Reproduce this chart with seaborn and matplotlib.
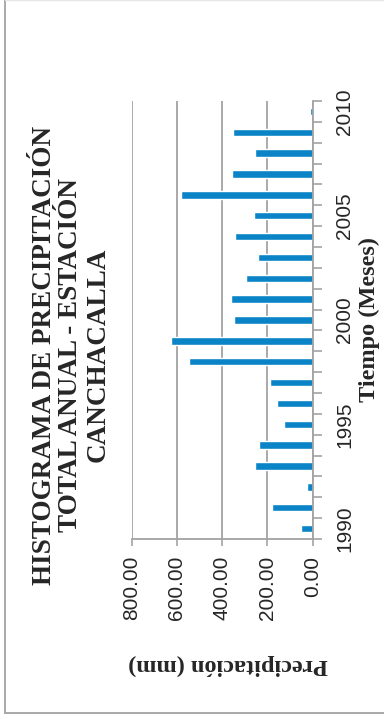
import matplotlib
matplotlib.use('Agg')
import numpy as np
import pandas as pd
import matplotlib.pyplot as plt
import seaborn as sns
from matplotlib.lines import Line2D

years = list(range(1990, 2011))
precip = [51, 180, 24, 257, 236, 126, 160, 188, 546, 628,
          346, 361, 297, 241, 343, 258, 580, 355, 257, 354, 10]
year_labels = ['1990', '1995', '2000', '2005', '2010']

BLUE = '#0A84C6'
GREY = '#A3A3A6'


def main():
    sns.set_style('white')
    plt.rcParams['font.family'] = ['Liberation Sans', 'DejaVu Sans']

    data = pd.DataFrame({'year': [str(y) for y in years], 'precip': precip})
    order = [str(y) for y in years][::-1]

    fig = plt.figure(figsize=(3.84, 7.19), dpi=100)
    ax = fig.add_axes([131.7 / 384, 1 - 539 / 719, (312.7 - 131.7) / 384, (539 - 101) / 719])

    sns.barplot(data=data, x='precip', y='year', order=order, orient='h',
                color=BLUE, saturation=1, width=0.36, ax=ax)

    ax.set_xlim(800, 0)
    ax.set_ylim(len(years) - 0.5, -0.5)

    # value axis (bottom)
    ax.set_xticks([0, 200, 400, 600, 800])
    ax.set_xticklabels(['%.2f' % v for v in [0, 200, 400, 600, 800]],
                       rotation=90, fontsize=15)
    ax.tick_params(axis='x', direction='out', length=5, width=1.2, color=GREY,
                   pad=7, bottom=True)
    ax.grid(axis='x', color=GREY, linewidth=1.3)
    ax.set_axisbelow(True)

    # category axis (right side)
    ax.yaxis.tick_right()
    pos = [order.index(y) for y in year_labels]
    ax.set_yticks(pos)
    ax.set_yticklabels(year_labels, rotation=90, va='center', ha='left', fontsize=15)
    ax.set_yticks(np.arange(-0.5, len(years)), minor=True)
    ax.tick_params(axis='y', which='major', length=0, pad=16)
    ax.tick_params(axis='y', which='minor', direction='out', length=6.5,
                   width=1.2, color=GREY, right=True, left=False)

    for s in ['left', 'top']:
        ax.spines[s].set_visible(False)
    for s in ['right', 'bottom']:
        ax.spines[s].set_color(GREY)
        ax.spines[s].set_linewidth(1.3)

    ax.set_xlabel('')
    ax.set_ylabel('')
    serif = ['Liberation Serif', 'DejaVu Serif']
    fig.text(228 / 384, 1 - 665 / 719, 'Precipitación (mm)', rotation=180,
             ha='center', va='center', fontsize=17.5, fontweight='bold', family=serif)
    fig.text(369 / 384, 1 - 320 / 719, 'Tiempo (Meses)', rotation=90,
             ha='center', va='center', fontsize=17.5, fontweight='bold', family=serif)
    fig.text(71 / 384, 1 - 355 / 719,
             'HISTOGRAMA DE PRECIPITACIÓN\nTOTAL ANUAL - ESTACIÓN\nCANCHACALLA',
             rotation=90, ha='center', va='center', multialignment='center',
             linespacing=1.1, fontsize=19.5, fontweight='bold', family=serif)

    # chart border
    fig.add_artist(Line2D([5 / 384, 5 / 384], [1 - 713 / 719, 1], transform=fig.transFigure,
                          color=GREY, linewidth=1.3))
    fig.add_artist(Line2D([5 / 384, 1], [1 - 713 / 719, 1 - 713 / 719], transform=fig.transFigure,
                          color=GREY, linewidth=1.3))
    fig.add_artist(Line2D([5 / 384, 1], [0.9995, 0.9995], transform=fig.transFigure,
                          color='#E6E6E6', linewidth=1))

    fig.savefig('out.png', dpi=100)
    plt.close(fig)


if __name__ == '__main__':
    main()
